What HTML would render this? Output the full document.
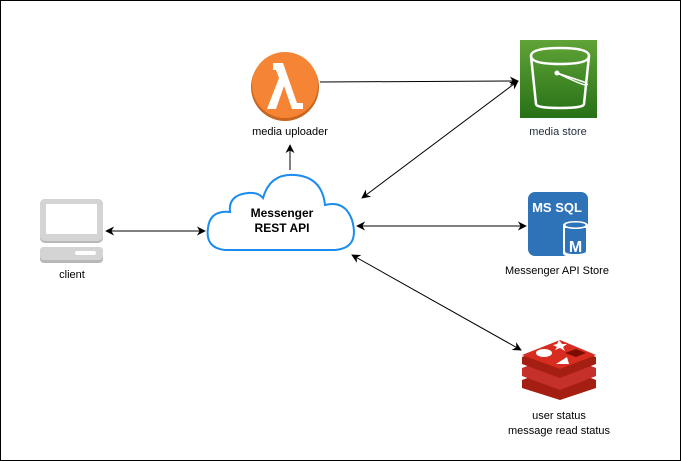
<!DOCTYPE html>
<html><head><style>
html,body{margin:0;padding:0;background:#fff;}
svg{display:block;font-family:"Liberation Sans",Arial,sans-serif;}
</style></head><body>
<svg width="681" height="461" viewBox="0 0 681 461" xmlns="http://www.w3.org/2000/svg">
<defs>
<marker id="a" viewBox="0 0 10 10" refX="9" refY="5" markerWidth="9" markerHeight="9" orient="auto-start-reverse"><path d="M0,0 L10,5 L0,10 L3,5 Z" fill="#000"/></marker>
<linearGradient id="g" x1="0" y1="0" x2="0" y2="1"><stop offset="0" stop-color="#60A337"/><stop offset="1" stop-color="#277116"/></linearGradient>
</defs>
<rect x="0.5" y="0.5" width="680" height="460" fill="#fff" stroke="#000"/>
<g stroke="#000" stroke-width="1" fill="none">
<line x1="320" y1="82" x2="518" y2="81" marker-end="url(#a)"/>
<line x1="290" y1="170" x2="290" y2="145" marker-end="url(#a)"/>
<line x1="106" y1="231" x2="205" y2="231" marker-start="url(#a)" marker-end="url(#a)"/>
<line x1="518" y1="81" x2="362" y2="198" marker-start="url(#a)" marker-end="url(#a)"/>
<line x1="357" y1="226" x2="526" y2="226" marker-start="url(#a)" marker-end="url(#a)"/>
<line x1="352" y1="255" x2="521" y2="350" marker-start="url(#a)" marker-end="url(#a)"/>
</g>
<circle cx="285" cy="87" r="34" fill="#C8651F"/>
<circle cx="285" cy="85" r="33" fill="#F58534"/>
<path d="M273,63 L283,63 L297,103 L303,103 L303,109 L292,109 L284,86 L276,109 L267,109 L279,78 L276,70 L273,70 Z" fill="#fff"/>
<text x="290" y="135" font-size="11" text-anchor="middle" fill="#000">media uploader</text>
<rect x="520" y="40" width="77" height="78" fill="url(#g)"/>
<path d="M531,56 Q531,48 560,48 Q589,48 589,56 L584,104 Q584,108 560,108 Q536,108 536,104 Z M531,56 Q531,64 560,64 Q589,64 589,56" fill="none" stroke="#fff" stroke-width="2.5"/>
<circle cx="557" cy="73" r="2.5" fill="#fff"/>
<path d="M557,73 L584,82 Q590,85 585,85 Q580,84 557,73" fill="none" stroke="#fff" stroke-width="1.5"/>
<text x="558" y="135" font-size="11" text-anchor="middle" fill="#232F3E">media store</text>
<path d="M225,250 Q205,248 208,228 Q210,210 230,212 Q228,195 248,193 Q258,192 263,198 Q270,173 295,175 Q322,177 325,205 Q345,200 352,220 Q360,248 335,250 Z" fill="#fff" stroke="#1A8CF0" stroke-width="2"/>
<text x="282" y="217" font-size="12" font-weight="bold" text-anchor="middle">Messenger</text>
<text x="282" y="232" font-size="12" font-weight="bold" text-anchor="middle">REST API</text>
<rect x="40" y="199" width="63" height="44" rx="5" fill="#B8B8B8"/>
<rect x="40" y="199" width="63" height="42" rx="5" fill="#D4D4D4"/>
<rect x="46" y="204" width="51" height="30" fill="#fff"/>
<rect x="40" y="247" width="63" height="16" rx="4" fill="#B8B8B8"/>
<rect x="40" y="247" width="63" height="13" rx="4" fill="#D4D4D4"/>
<rect x="75" y="251" width="21" height="4" rx="2" fill="#fff"/>
<text x="72" y="278" font-size="11" text-anchor="middle">client</text>
<rect x="528" y="192" width="60" height="64" rx="7" fill="#2E73B8"/>
<text x="557" y="212" font-size="13" font-weight="bold" fill="#fff" text-anchor="middle">MS SQL</text>
<path d="M563,225 L563,253 Q563,257 575,257 Q588,257 588,253 L588,225 Z" fill="#fff"/>
<path d="M565,228 L565,251 Q565,254 575,254 Q586,254 586,251 L586,228 Z" fill="#2E73B8"/>
<ellipse cx="575.5" cy="225" rx="12.5" ry="4" fill="#fff"/>
<ellipse cx="575.5" cy="225" rx="10" ry="2.5" fill="#2E73B8"/>
<text x="575.5" y="252" font-size="16" font-weight="bold" fill="#fff" text-anchor="middle">M</text>
<text x="557" y="274" font-size="11" text-anchor="middle">Messenger API Store</text>
<path d="M522,380 L560,366 L596,380 L596,388 L560,400 L522,388 Z" fill="#A41E11"/>
<path d="M522,368 L560,354 L596,368 L596,376 L560,390 L522,376 Z" fill="#C6302B"/>
<path d="M522,357 L560,342 L596,357 L596,364 L560,378 L522,364 Z" fill="#A41E11"/>
<path d="M522,355 L560,340 L596,355 L560,369 Z" fill="#D82C20"/>
<ellipse cx="544" cy="353" rx="8" ry="4" fill="#fff"/>
<path d="M557,344 L559,340 L562,344 L567,344 L563,347 L565,351 L560,348 L555,350 L557,347 L553,345 Z" fill="#fff"/>
<path d="M556,364 L567,357 L569,364 Z" fill="#fff"/>
<path d="M565,353 L576,349 L586,353 L576,357 Z" fill="#7A0C00"/>
<text x="559" y="419" font-size="11" text-anchor="middle">user status</text>
<text x="559" y="434" font-size="11" text-anchor="middle">message read status</text>
</svg>
</body></html>
